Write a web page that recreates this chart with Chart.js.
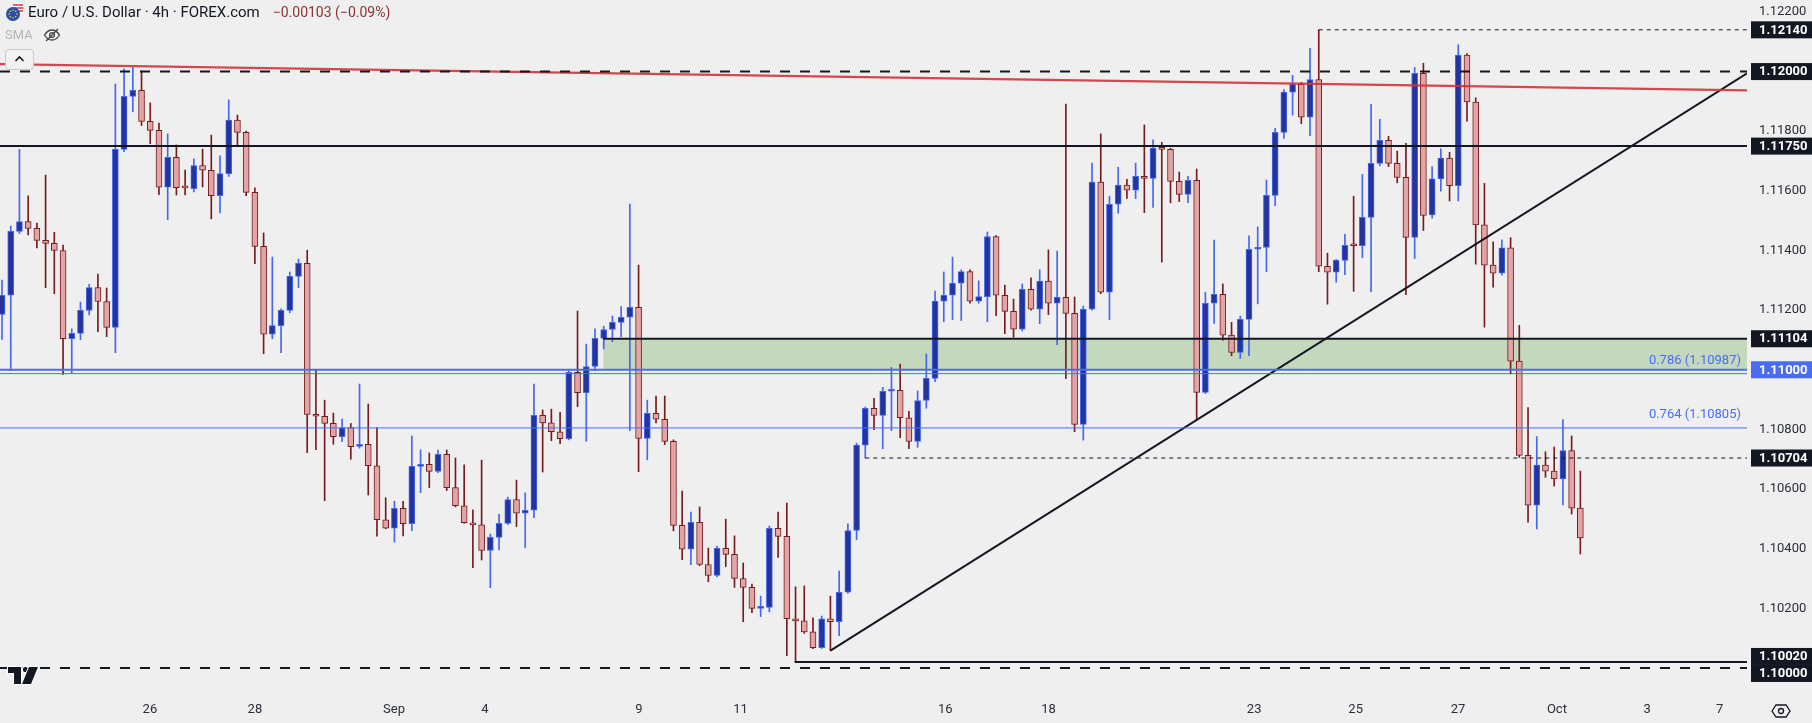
<!DOCTYPE html>
<html>
<head>
<meta charset="utf-8">
<title>EUR/USD 4h</title>
<script src="https://cdn.jsdelivr.net/npm/chart.js@4.4.1/dist/chart.umd.min.js"></script>
<style>
  html, body { margin: 0; padding: 0; background: #efefef; }
  #wrap { position: relative; width: 1812px; height: 723px; background: #efefef; overflow: hidden; }
  #chart { position: absolute; left: 0; top: 0; }
  #hdr { position: absolute; left: 5px; top: 2px; font: 15px Roboto, sans-serif; color: #131722; display: flex; align-items: center; white-space: nowrap; z-index: 2; }
  #hdr .chg { color: #8c3232; margin-left: 13px; font-size: 14px; }
  #sma { position: absolute; left: 5px; top: 27px; font: 13px Roboto, sans-serif; color: #b4b4b4; display: flex; align-items: center; z-index: 2; }
  #collapse { position: absolute; left: 5px; top: 49px; width: 27px; height: 19px; border: 1px solid #c9c9c9; border-radius: 4px; background: #f2f2f2; z-index: 2; }
</style>
</head>
<body>
<div id="wrap">
  <canvas id="chart"></canvas>
  <div id="hdr">
    <svg width="20" height="20" viewBox="0 0 20 20" style="margin-right:3px">
      <circle cx="13" cy="6.5" r="5.5" fill="#fff"/>
      <path d="M8 3h10M7.6 6h10.8M8 9h10" stroke="#d0303a" stroke-width="1.4"/>
      <circle cx="8" cy="12" r="7" fill="#2a4fa8"/>
      <g fill="#f5d33a">
        <circle cx="8" cy="8.2" r="0.8"/><circle cx="10.7" cy="9.3" r="0.8"/><circle cx="11.8" cy="12" r="0.8"/>
        <circle cx="10.7" cy="14.7" r="0.8"/><circle cx="8" cy="15.8" r="0.8"/><circle cx="5.3" cy="14.7" r="0.8"/>
        <circle cx="4.2" cy="12" r="0.8"/><circle cx="5.3" cy="9.3" r="0.8"/>
      </g>
    </svg>
    <span>Euro / U.S. Dollar · 4h · FOREX.com</span>
    <span class="chg">−0.00103 (−0.09%)</span>
  </div>
  <div id="sma">
    <span>SMA</span>
    <svg width="18" height="14" viewBox="0 0 18 14" style="margin-left:10px">
      <path d="M1.5 7C4 3 7 2 9 2s5 1 7.5 5C14 11 11 12 9 12S4 11 1.5 7z" fill="none" stroke="#444" stroke-width="1.3"/>
      <circle cx="9" cy="7" r="2.4" fill="none" stroke="#444" stroke-width="1.3"/>
      <path d="M3 13L15 1" stroke="#444" stroke-width="1.3"/>
    </svg>
  </div>
  <div id="collapse">
    <svg width="27" height="19" viewBox="0 0 27 19"><path d="M9.5 11l4-4 4 4" fill="none" stroke="#131722" stroke-width="1.6"/></svg>
  </div>
</div>
<script>
// ---- candles, 4h, oldest first ----
const open = [
  1.11186,1.11250,1.11464,1.11497,1.11474,1.11434,1.11424,1.11400,1.11104,1.11122,
  1.11199,1.11276,1.11229,1.11142,1.11739,1.11917,1.11937,1.11833,1.11803,1.11612,
  1.11712,1.11612,1.11607,1.11685,1.11669,1.11584,1.11658,1.11837,1.11796,1.11595,
  1.11414,1.11119,1.11148,1.11199,1.11313,1.11357,1.10850,1.10844,1.10820,1.10776,
  1.10806,1.10743,1.10750,1.10678,1.10497,1.10469,1.10535,1.10484,1.10676,1.10683,
  1.10659,1.10716,1.10605,1.10544,1.10487,1.10480,1.10394,1.10438,1.10485,1.10565,
  1.10519,1.10529,1.10847,1.10822,1.10792,1.10769,1.10991,1.10923,1.11011,1.11105,
  1.11135,1.11159,1.11176,1.11209,1.10770,1.10854,1.10834,1.10760,1.10478,1.10398,
  1.10488,1.10347,1.10310,1.10401,1.10381,1.10300,1.10270,1.10200,1.10203,1.10468,
  1.10441,1.10165,1.10158,1.10121,1.10068,1.10165,1.10155,1.10254,1.10461,1.10747,
  1.10871,1.10847,1.10928,1.10931,1.10839,1.10760,1.10897,1.10971,1.11230,1.11250,
  1.11290,1.11329,1.11230,1.11245,1.11447,1.11250,1.11196,1.11136,1.11270,1.11203,
  1.11297,1.11223,1.11243,1.11189,1.10817,1.11203,1.11629,1.11260,1.11555,1.11619,
  1.11602,1.11649,1.11642,1.11743,1.11739,1.11632,1.11588,1.11635,1.10924,1.11223,
  1.11253,1.11116,1.11058,1.11169,1.11404,1.11410,1.11585,1.11796,1.11931,1.11957,
  1.11847,1.11973,1.11347,1.11327,1.11367,1.11417,1.11416,1.11511,1.11692,1.11769,
  1.11692,1.11645,1.11444,1.11994,1.11519,1.11640,1.11710,1.11617,1.12055,1.11898,
  1.11486,1.11351,1.11324,1.11409,1.11029,1.10713,1.10546,1.10680,1.10660,1.10634,
  1.10729,1.10536
];
const high = [
  1.11301,1.11482,1.11739,1.11583,1.11492,1.11653,1.11461,1.11418,1.11137,1.11227,
  1.11287,1.11321,1.11274,1.11958,1.12009,1.12014,1.12002,1.11895,1.11827,1.11791,
  1.11754,1.11670,1.11707,1.11740,1.11787,1.11717,1.11905,1.11854,1.11800,1.11610,
  1.11459,1.11378,1.11204,1.11328,1.11371,1.11401,1.11001,1.10898,1.10855,1.10835,
  1.10820,1.10952,1.10885,1.10806,1.10571,1.10559,1.10559,1.10778,1.10731,1.10721,
  1.10731,1.10731,1.10704,1.10681,1.10530,1.10697,1.10449,1.10515,1.10573,1.10630,
  1.10587,1.10952,1.10865,1.10868,1.10857,1.11001,1.11197,1.11086,1.11137,1.11146,
  1.11180,1.11212,1.11556,1.11351,1.10898,1.10912,1.10912,1.10765,1.10593,1.10523,
  1.10540,1.10402,1.10409,1.10499,1.10443,1.10352,1.10281,1.10241,1.10476,1.10523,
  1.10553,1.10272,1.10275,1.10168,1.10174,1.10241,1.10325,1.10483,1.10754,1.10875,
  1.10904,1.10941,1.11008,1.11019,1.10861,1.10929,1.11053,1.11264,1.11328,1.11378,
  1.11335,1.11335,1.11298,1.11462,1.11450,1.11284,1.11237,1.11288,1.11308,1.11335,
  1.11402,1.11398,1.11891,1.11244,1.11214,1.11693,1.11791,1.11582,1.11679,1.11639,
  1.11693,1.11821,1.11771,1.11763,1.11743,1.11663,1.11649,1.11673,1.11260,1.11435,
  1.11288,1.11159,1.11180,1.11449,1.11479,1.11636,1.11810,1.11940,1.11987,1.11964,
  1.12078,1.12140,1.11391,1.11370,1.11454,1.11582,1.11655,1.11890,1.11840,1.11783,
  1.11733,1.11759,1.12014,1.12028,1.11681,1.11741,1.11729,1.12090,1.12060,1.11912,
  1.11625,1.11429,1.11436,1.11443,1.11149,1.10873,1.10776,1.10725,1.10741,1.10833,
  1.10778,1.10660
];
const low = [
  1.11102,1.10997,1.11457,1.11452,1.11409,1.11275,1.11255,1.10984,1.10988,1.11101,
  1.11184,1.11128,1.11111,1.11057,1.11731,1.11865,1.11819,1.11758,1.11587,1.11503,
  1.11586,1.11586,1.11596,1.11613,1.11506,1.11526,1.11648,1.11748,1.11584,1.11356,
  1.11054,1.11104,1.11057,1.11191,1.11275,1.10722,1.10732,1.10561,1.10750,1.10759,
  1.10700,1.10737,1.10580,1.10442,1.10467,1.10422,1.10443,1.10460,1.10588,1.10605,
  1.10655,1.10595,1.10540,1.10485,1.10336,1.10362,1.10269,1.10396,1.10481,1.10474,
  1.10403,1.10504,1.10657,1.10762,1.10752,1.10765,1.10876,1.10760,1.10997,1.11070,
  1.11094,1.11111,1.10796,1.10658,1.10698,1.10822,1.10749,1.10460,1.10363,1.10346,
  1.10343,1.10289,1.10305,1.10340,1.10270,1.10155,1.10185,1.10172,1.10188,1.10371,
  1.10041,1.10022,1.10116,1.10065,1.10065,1.10058,1.10108,1.10250,1.10430,1.10704,
  1.10799,1.10735,1.10796,1.10772,1.10735,1.10740,1.10871,1.10960,1.11161,1.11168,
  1.11165,1.11223,1.11223,1.11161,1.11181,1.11121,1.11109,1.11130,1.11200,1.11155,
  1.11185,1.11084,1.10970,1.10792,1.10764,1.11200,1.11255,1.11168,1.11525,1.11575,
  1.11574,1.11527,1.11544,1.11361,1.11560,1.11564,1.11560,1.10834,1.10920,1.11155,
  1.11099,1.11047,1.11038,1.11047,1.11221,1.11329,1.11550,1.11776,1.11854,1.11825,
  1.11785,1.11329,1.11220,1.11293,1.11319,1.11263,1.11376,1.11262,1.11684,1.11681,
  1.11627,1.11252,1.11373,1.11467,1.11508,1.11599,1.11566,1.11566,1.11834,1.11354,
  1.11143,1.11277,1.11317,1.10986,1.10706,1.10489,1.10466,1.10639,1.10610,1.10547,
  1.10516,1.10382
];
const close = [
  1.11250,1.11464,1.11497,1.11474,1.11434,1.11424,1.11400,1.11104,1.11122,1.11199,
  1.11276,1.11229,1.11142,1.11739,1.11917,1.11937,1.11833,1.11803,1.11612,1.11712,
  1.11611,1.11610,1.11685,1.11669,1.11584,1.11658,1.11837,1.11796,1.11595,1.11414,
  1.11119,1.11148,1.11199,1.11313,1.11357,1.10850,1.10844,1.10820,1.10776,1.10806,
  1.10742,1.10749,1.10678,1.10497,1.10469,1.10535,1.10484,1.10676,1.10683,1.10659,
  1.10716,1.10605,1.10544,1.10487,1.10480,1.10394,1.10438,1.10485,1.10565,1.10519,
  1.10529,1.10847,1.10822,1.10792,1.10769,1.10991,1.10923,1.11011,1.11105,1.11135,
  1.11159,1.11176,1.11209,1.10770,1.10854,1.10834,1.10760,1.10478,1.10398,1.10488,
  1.10347,1.10310,1.10401,1.10381,1.10300,1.10270,1.10200,1.10203,1.10468,1.10441,
  1.10165,1.10158,1.10121,1.10068,1.10165,1.10155,1.10254,1.10461,1.10747,1.10871,
  1.10847,1.10928,1.10931,1.10839,1.10760,1.10897,1.10971,1.11230,1.11250,1.11290,
  1.11329,1.11230,1.11245,1.11447,1.11250,1.11196,1.11136,1.11270,1.11203,1.11297,
  1.11223,1.11243,1.11189,1.10817,1.11203,1.11629,1.11260,1.11555,1.11619,1.11602,
  1.11649,1.11642,1.11743,1.11739,1.11632,1.11588,1.11635,1.10924,1.11223,1.11253,
  1.11116,1.11058,1.11169,1.11404,1.11410,1.11585,1.11796,1.11931,1.11957,1.11847,
  1.11973,1.11347,1.11327,1.11367,1.11417,1.11416,1.11511,1.11692,1.11769,1.11692,
  1.11645,1.11444,1.11994,1.11518,1.11640,1.11710,1.11617,1.12055,1.11898,1.11486,
  1.11351,1.11324,1.11409,1.11029,1.10713,1.10546,1.10680,1.10660,1.10634,1.10729,
  1.10536,1.10436
];

// date labels on the time axis (candle index where each label sits)
const dayTickPos = [16.96, 29.0, 44.95, 55.39, 73.05, 84.69, 108.17, 120.01, 143.59, 155.23, 166.97, 178.31, 188.65, 196.98];
const dayLabels  = ['26', '28', 'Sep', '4', '9', '11', '16', '18', '23', '25', '27', 'Oct', '3', '7'];

// price scale
const priceTicks = [1.100, 1.102, 1.104, 1.106, 1.108, 1.110, 1.112, 1.114, 1.116, 1.118, 1.120, 1.122];

// drawn levels
const levelBoxes   = [1.12140, 1.12000, 1.11750, 1.11104, 1.11000, 1.10704, 1.10020, 1.10000];
const fibLevels    = [1.10987, 1.10805];
const fibNames     = ['0.786', '0.764'];
const zoneLevels   = [1.11002, 1.11104];
const zoneStart    = 68.94;
const resistance   = [[-0.23, 1.12025], [200.11, 1.11937]];   // red falling line
const supportTrend = [[95, 1.10058], [200.11, 1.11994]];      // black rising line

const X_MIN = -0.2294, X_MAX = 200.11;
const Y_MIN = 1.09916, Y_MAX = 1.12240;

const BULL_FILL = '#23349c', BULL_LINE = '#4466f2';
const BEAR_FILL = '#e3a4a5', BEAR_LINE = '#761c1f';
const BLUE = '#4a6cf5', INK = '#131722';

const idx = open.map((_, i) => i);
const isUp = i => close[i] >= open[i];

function hLine(y, x0, color, width, dash) {
  return {
    type: 'line',
    data: [{ x: x0, y: y }, { x: X_MAX, y: y }],
    borderColor: color, borderWidth: width, borderDash: dash || [],
    pointRadius: 0, fill: false, order: -1
  };
}
function segment(pts, color, width) {
  return {
    type: 'line',
    data: pts.map(p => ({ x: p[0], y: p[1] })),
    borderColor: color, borderWidth: width,
    pointRadius: 0, fill: false, order: -1
  };
}

const datasets = [
  // support/resistance zone
  {
    type: 'line',
    data: [{ x: zoneStart, y: zoneLevels[1] }, { x: X_MAX, y: zoneLevels[1] }],
    borderWidth: 0, pointRadius: 0,
    backgroundColor: '#c3d8bc',
    fill: { value: zoneLevels[0] },
    order: 10
  },
  // wicks
  {
    type: 'bar',
    data: idx.map(i => ({ x: i, y: [low[i], high[i]] })),
    backgroundColor: c => isUp(c.dataIndex) ? BULL_LINE : BEAR_LINE,
    borderWidth: 0,
    barThickness: 1,
    grouped: false,
    order: 2
  },
  // bodies
  {
    type: 'bar',
    data: idx.map(i => ({ x: i, y: [open[i], close[i]] })),
    backgroundColor: c => isUp(c.dataIndex) ? BULL_FILL : BEAR_FILL,
    borderColor: c => isUp(c.dataIndex) ? BULL_LINE : BEAR_LINE,
    borderWidth: 1,
    borderSkipped: false,
    barThickness: 6,
    minBarLength: 2,
    grouped: false,
    order: 1
  },
  hLine(1.12000, X_MIN, INK, 2, [10, 10]),
  hLine(1.10000, X_MIN, INK, 2, [10, 10]),
  hLine(1.12140, 151, INK, 1, [4, 4]),
  hLine(1.10704, 99, INK, 1, [4, 4]),
  hLine(1.11750, X_MIN, INK, 2),
  hLine(1.11104, zoneStart, INK, 2),
  hLine(1.10020, 90.9, INK, 2),
  hLine(1.11000, X_MIN, BLUE, 2),
  hLine(fibLevels[0], X_MIN, BLUE, 1),
  hLine(fibLevels[1], X_MIN, BLUE, 1),
  segment(resistance, 'rgba(208, 52, 60, 0.9)', 2.2),
  segment(supportTrend, INK, 2)
];

const overlay = {
  id: 'overlay',
  afterDatasetsDraw(chart) {
    const { ctx, chartArea: a, scales: { y } } = chart;
    ctx.save();
    ctx.font = '13px Roboto, sans-serif';
    ctx.fillStyle = BLUE;
    ctx.textAlign = 'right';
    ctx.textBaseline = 'middle';
    fibLevels.forEach((v, k) => {
      ctx.fillText(fibNames[k] + ' (' + v.toFixed(5) + ')', a.right - 6, y.getPixelForValue(v) - 13);
    });
    ctx.restore();
  },
  afterDraw(chart) {
    const { ctx, chartArea: a, scales: { y } } = chart;
    const h = 17;
    // label boxes on the price axis, pushed apart where they collide
    const boxes = levelBoxes.map(v => ({ v: v, c: y.getPixelForValue(v) })).sort((p, q) => p.c - q.c);
    for (let k = 1; k < boxes.length; k++) {
      const gap = boxes[k].c - boxes[k - 1].c;
      if (gap < h) {
        const mid = (boxes[k].c + boxes[k - 1].c) / 2;
        boxes[k - 1].c = mid - h / 2;
        boxes[k].c = mid + h / 2;
      }
    }
    ctx.save();
    ctx.font = 'bold 13px Roboto, sans-serif';
    ctx.textBaseline = 'middle';
    ctx.textAlign = 'left';
    boxes.forEach(b => {
      ctx.fillStyle = Math.abs(b.v - 1.11) < 1e-9 ? BLUE : INK;
      ctx.fillRect(a.right + 4, b.c - h / 2, chart.width - a.right - 4, h);
      ctx.fillStyle = '#ffffff';
      ctx.fillText(b.v.toFixed(5), a.right + 12, b.c + 0.5);
    });

    // TradingView mark, bottom left
    ctx.fillStyle = INK;
    ctx.strokeStyle = '#ffffff';
    ctx.lineWidth = 2;
    ctx.beginPath();
    ctx.moveTo(8, 667); ctx.lineTo(21, 667); ctx.lineTo(21, 684); ctx.lineTo(14, 684);
    ctx.lineTo(14, 673); ctx.lineTo(8, 673); ctx.closePath();
    ctx.stroke(); ctx.fill();
    ctx.beginPath(); ctx.arc(25.5, 669.5, 2.6, 0, Math.PI * 2); ctx.stroke(); ctx.fill();
    ctx.beginPath();
    ctx.moveTo(29, 667); ctx.lineTo(38, 667); ctx.lineTo(31, 684); ctx.lineTo(22, 684); ctx.closePath();
    ctx.stroke(); ctx.fill();

    // settings icon, bottom right
    ctx.strokeStyle = INK;
    ctx.lineWidth = 1.3;
    ctx.beginPath();
    const cx = 1781, cy = 711;
    ctx.moveTo(cx - 9, cy); ctx.lineTo(cx - 5, cy - 6); ctx.lineTo(cx + 5, cy - 6);
    ctx.lineTo(cx + 9, cy); ctx.lineTo(cx + 5, cy + 6); ctx.lineTo(cx - 5, cy + 6); ctx.closePath();
    ctx.stroke();
    ctx.beginPath(); ctx.arc(cx, cy, 2.5, 0, Math.PI * 2); ctx.stroke();
    ctx.restore();
  }
};

new Chart(document.getElementById('chart'), {
  type: 'bar',
  data: { datasets: datasets },
  options: {
    responsive: true,
    maintainAspectRatio: false,
    animation: false,
    layout: { padding: 0 },
    plugins: { legend: { display: false }, tooltip: { enabled: false } },
    scales: {
      x: {
        type: 'linear',
        min: X_MIN, max: X_MAX,
        offset: false,
        grid: { display: false, drawTicks: false },
        border: { display: false },
        ticks: {
          autoSkip: false, maxRotation: 0, padding: 9,
          color: '#2a2e39', font: { size: 13, family: 'Roboto' },
          callback: (v, i) => dayLabels[i]
        },
        afterBuildTicks: ax => { ax.ticks = dayTickPos.map(v => ({ value: v })); },
        afterFit: ax => { ax.height = 30; ax.paddingLeft = 0; ax.paddingRight = 0; }
      },
      y: {
        type: 'linear',
        position: 'right',
        min: Y_MIN, max: Y_MAX,
        grid: { display: false, drawTicks: false },
        border: { display: false },
        ticks: {
          padding: 12,
          color: '#2a2e39', font: { size: 13, family: 'Roboto' },
          callback: v => v.toFixed(5)
        },
        afterBuildTicks: ax => { ax.ticks = priceTicks.map(v => ({ value: v })); },
        afterFit: ax => { ax.width = 65; ax.paddingTop = 0; ax.paddingBottom = 0; }
      }
    }
  },
  plugins: [overlay]
});
</script>
</body>
</html>
